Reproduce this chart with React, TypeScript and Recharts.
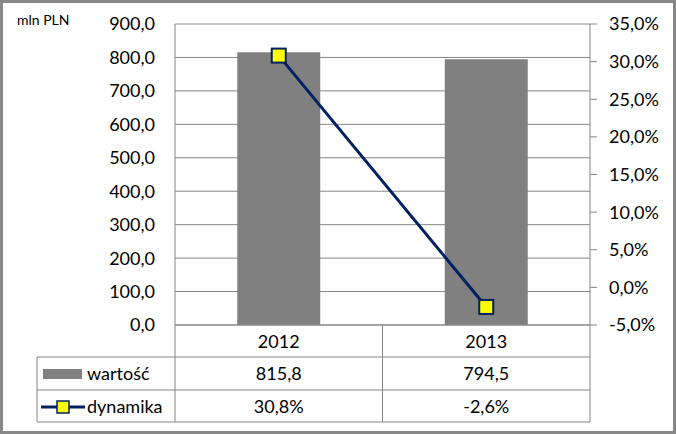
import React from 'react';
import { ComposedChart, Bar, Line, XAxis, YAxis, CartesianGrid } from 'recharts';

const years = ['2012', '2013'];
const wartosc = [815.8, 794.5];
const dynamika = [30.8, -2.6];
const leftTicks = [0, 100, 200, 300, 400, 500, 600, 700, 800, 900];
const rightTicks = [-5, 0, 5, 10, 15, 20, 25, 30, 35];

const data = years.map((year, i) => ({ year, wartosc: wartosc[i], dynamika: dynamika[i] }));

const fmt1 = (v: number) => v.toFixed(1).replace('.', ',');
const fmtPct = (v: number) => fmt1(v) + '%';

const GRID = '#868686';
const NAVY = '#002060';
const FONT = 'Lato, sans-serif';

const BAND = 207.5;

const TableTick = (props: any) => {
  const { x, y, payload } = props;
  const i = payload.index;
  const h = BAND / 2;
  const rows = [y + 32, y + 65, y + 97];
  return (
    <g fontFamily={FONT} fontSize={18} fill="#000">
      <text x={x} y={y + 17} textAnchor="middle" dy="0.35em">{payload.value}</text>
      <text x={x} y={y + 49} textAnchor="middle" dy="0.35em">{fmt1(wartosc[i])}</text>
      <text x={x} y={y + 82} textAnchor="middle" dy="0.35em">{fmtPct(dynamika[i])}</text>
      <line x1={x + h} x2={x + h} y1={y} y2={y + 97} stroke={GRID} />
      {rows.map((ry) => (
        <line key={ry} x1={x - h} x2={x + h} y1={ry} y2={ry} stroke={GRID} />
      ))}
      {i === 0 && (
        <g>
          <line x1={x - h} x2={x - h} y1={y} y2={y + 97} stroke={GRID} />
          <line x1={37} x2={37} y1={y + 32} y2={y + 97} stroke={GRID} />
          {rows.map((ry) => (
            <line key={'l' + ry} x1={37} x2={x - h} y1={ry} y2={ry} stroke={GRID} />
          ))}
          <rect x={43} y={y + 44} width={39} height={10} fill="#808080" />
          <text x={87} y={y + 49} dy="0.35em">wartość</text>
          <line x1={41} x2={85} y1={y + 82} y2={y + 82} stroke={NAVY} strokeWidth={3} />
          <rect x={57} y={y + 76} width={12} height={12} fill="#FFFF00" stroke={NAVY} strokeWidth={1.5} />
          <text x={87} y={y + 82} dy="0.35em">dynamika</text>
        </g>
      )}
    </g>
  );
};

const SquareDot = (props: any) => {
  const { cx, cy } = props;
  if (cx == null || cy == null) return null;
  return <rect x={cx - 7} y={cy - 7} width={14} height={14} fill="#FFFF00" stroke={NAVY} strokeWidth={2} />;
};

export default function App() {
  return (
    <div style={{ position: 'fixed', left: 0, top: 0, width: 676, height: 434, background: '#fff' }}>
      <ComposedChart
        width={676}
        height={434}
        data={data}
        margin={{ top: 24, right: 0, bottom: 0, left: 0 }}
        barCategoryGap="30%"
      >
        <CartesianGrid yAxisId="left" vertical={false} stroke={GRID} />
        <XAxis
          dataKey="year"
          height={109}
          tickSize={0}
          tickMargin={0}
          axisLine={{ stroke: GRID }}
          tick={<TableTick />}
          interval={0}
        />
        <YAxis
          yAxisId="left"
          width={175}
          domain={[0, 900]}
          ticks={leftTicks}
          tickFormatter={fmt1}
          tickSize={0}
          tickMargin={20}
          axisLine={{ stroke: GRID }}
          tick={{ fill: '#000', fontSize: 18, fontFamily: FONT }}
        />
        <YAxis
          yAxisId="right"
          orientation="right"
          width={86}
          domain={[-5, 35]}
          ticks={rightTicks}
          tickFormatter={fmtPct}
          tickSize={7}
          tickMargin={12}
          axisLine={{ stroke: GRID }}
          tickLine={{ stroke: GRID }}
          tick={{ fill: '#000', fontSize: 18, fontFamily: FONT, textAnchor: 'start' }}
        />
        <Bar yAxisId="left" dataKey="wartosc" fill="#808080" isAnimationActive={false} />
        <Line
          yAxisId="right"
          dataKey="dynamika"
          stroke={NAVY}
          strokeWidth={3}
          dot={<SquareDot />}
          activeDot={false}
          isAnimationActive={false}
        />
        <text x={17} y={25} fontFamily={FONT} fontSize={14} fill="#000">mln PLN</text>
      </ComposedChart>
      <div
        style={{
          position: 'absolute',
          left: 0,
          top: 0,
          width: 676,
          height: 434,
          boxSizing: 'border-box',
          border: '3px solid #878787',
          pointerEvents: 'none',
        }}
      />
    </div>
  );
}
